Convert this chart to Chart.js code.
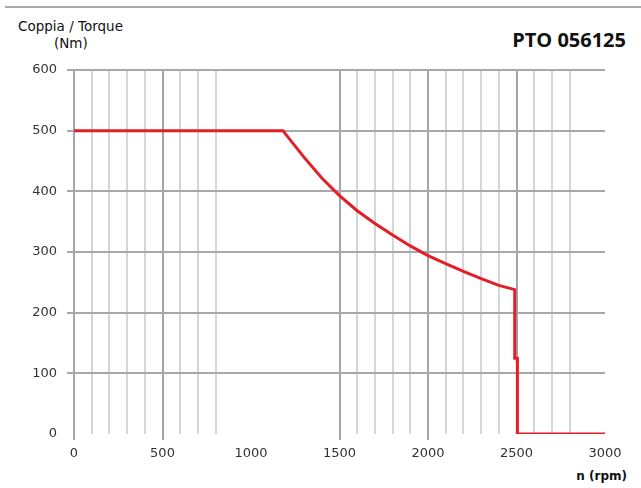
<!DOCTYPE html>
<html>
<head>
<meta charset="utf-8">
<script src="https://cdn.jsdelivr.net/npm/chart.js@4.4.0/dist/chart.umd.min.js"></script>
<style>
  html, body { margin: 0; padding: 0; background: #fff; }
  #wrap { position: relative; width: 641px; height: 488px; overflow: hidden; }
  #topLine { position: absolute; left: 5px; right: 0; top: 6px; border-top: 2px solid #a9a9a9; }
  .lbl { position: absolute; white-space: nowrap; color: #111; }
  #yTitle { left: 18px; top: 19px; font: 13.5px "DejaVu Sans", sans-serif; line-height: 15px; }
  #yUnit { left: 54px; top: 36px; font: 13.5px "DejaVu Sans", sans-serif; line-height: 15px; }
  #code { right: 15px; top: 29px; font: bold 20px "Open Sans", sans-serif; line-height: 22px; }
  #xTitle { right: 14px; top: 469px; font: bold 12px "DejaVu Sans", sans-serif; line-height: 14px; }
  #torqueChart { position: absolute; left: 0; top: 0; }
</style>
</head>
<body>
<div id="wrap">
  <div id="topLine"></div>
  <div class="lbl" id="yTitle">Coppia / Torque</div>
  <div class="lbl" id="yUnit">(Nm)</div>
  <div class="lbl" id="code">PTO 056125</div>
  <div class="lbl" id="xTitle">n (rpm)</div>
  <canvas id="torqueChart" width="641" height="488"></canvas>
</div>
<script>
// values
const rpm    = [0,   1180, 1300, 1400, 1500, 1600, 1700, 1800, 1900, 2000, 2100, 2200, 2300, 2400, 2490, 2490, 2505, 2505, 3000];
const torque = [500, 500,  456,  422,  393,  368,  347,  328,  310,  294,  281,  268,  256,  245,  238,  125,  125,  0,    0];

const xLabels = [0, 500, 1000, 1500, 2000, 2500, 3000];
const yLabels = [0, 100, 200, 300, 400, 500, 600];

const darkGrid = '#a3a6a9';
const lightGrid = '#d3d7db';
const none = 'rgba(0,0,0,0)';

function xGridColor(ctx) {
    let v = ctx.tick ? ctx.tick.value : 0;
    // no lines between 900 and 1400 and after 2800
    if ((v >= 900 && v <= 1400) || v >= 2900) return none;
    return v % 500 === 0 ? darkGrid : lightGrid;
}

Chart.defaults.font.family = '"DejaVu Sans", sans-serif';

whenReady(() => {
    let ctx = document.getElementById('torqueChart');
    let points = rpm.map((x, i) => ({ x: x, y: torque[i] }));

    new Chart(ctx, {
        type: 'line',
        data: {
            datasets: [{
                data: points,
                borderColor: '#e41e26',
                borderWidth: 3,
                pointRadius: 0,
                tension: 0,
                fill: false
            }]
        },
        options: {
            responsive: false,
            animation: false,
            layout: { padding: { top: 70, right: 36, left: 0, bottom: 0 } },
            plugins: { legend: { display: false }, tooltip: { enabled: false } },
            scales: {
                x: {
                    type: 'linear',
                    min: 0,
                    max: 3000,
                    afterFit: (scale) => { scale.height = 54; },
                    border: { display: false },
                    grid: {
                        color: xGridColor,
                        lineWidth: 2,
                        tickLength: 6,
                        tickColor: (c) => {
                            let v = c.tick ? c.tick.value : 0;
                            return (v % 500 === 0 && v < 2500 && v !== 1000) ? darkGrid : none;
                        }
                    },
                    ticks: {
                        stepSize: 100,
                        autoSkip: false,
                        maxRotation: 0,
                        padding: 6,
                        color: '#333',
                        font: { size: 13 },
                        callback: (v) => xLabels.includes(v) ? String(v) : ''
                    }
                },
                y: {
                    min: 0,
                    max: 600,
                    afterFit: (scale) => { scale.width = 74; },
                    border: { display: false },
                    grid: {
                        color: (c) => (c.tick && c.tick.value === 0) ? none : '#a8a8a8',
                        lineWidth: 2,
                        tickLength: 7,
                        tickColor: (c) => (c.tick && c.tick.value === 0) ? none : '#a8a8a8'
                    },
                    ticks: {
                        stepSize: 100,
                        padding: 10,
                        color: '#333',
                        font: { size: 13 },
                        callback: (v) => yLabels.includes(v) ? String(v) : ''
                    }
                }
            }
        }
    });
});

function whenReady(action) {
    if (document.readyState === 'loading') {
        document.addEventListener('DOMContentLoaded', action);
    } else {
        action();
    }
}
</script>
</body>
</html>
